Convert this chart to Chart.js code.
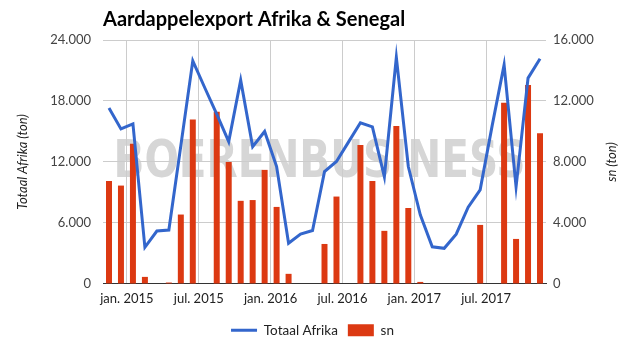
<!DOCTYPE html>
<html lang="nl">
<head>
<meta charset="utf-8">
<title>Aardappelexport Afrika &amp; Senegal</title>
<script src="https://cdn.jsdelivr.net/npm/chart.js@4.4.1/dist/chart.umd.min.js"></script>
<style>
    html, body { margin: 0; padding: 0; background: #ffffff; }
    #wrap { width: 625px; height: 355px; position: relative; }
</style>
</head>
<body>
<div id="wrap"><canvas id="myChart"></canvas></div>
<script>
// maanden nov. 2014 t/m nov. 2017
const maanden = [
    "nov. 2014", "dec. 2014",
    "jan. 2015", "feb. 2015", "mrt. 2015", "apr. 2015", "mei 2015", "jun. 2015",
    "jul. 2015", "aug. 2015", "sep. 2015", "okt. 2015", "nov. 2015", "dec. 2015",
    "jan. 2016", "feb. 2016", "mrt. 2016", "apr. 2016", "mei 2016", "jun. 2016",
    "jul. 2016", "aug. 2016", "sep. 2016", "okt. 2016", "nov. 2016", "dec. 2016",
    "jan. 2017", "feb. 2017", "mrt. 2017", "apr. 2017", "mei 2017", "jun. 2017",
    "jul. 2017", "aug. 2017", "sep. 2017", "okt. 2017", "nov. 2017"
];

// Totaal Afrika (ton), linker as
const totaalAfrika = [
    17300, 15250,
    15750, 3600, 5200, 5300, 13600, 21950,
    19300, 16700, 14000, 20050, 13500, 15000,
    11550, 4000, 4900, 5250, 11050, 12050,
    13950, 15850, 15450, 10550, 22300, 11550,
    6800, 3650, 3500, 4900, 7550, 9250,
    15550, 21550, 9550, 20250, 22150
];

// sn = Senegal (ton), rechter as
const senegal = [
    6750, 6450,
    9200, 460, 0, 90, 4550, 10780,
    0, 11300, 8000, 5450, 5500, 7480,
    5050, 660, 0, 0, 2620, 5730,
    0, 9120, 6750, 3480, 10360, 4980,
    130, 0, 0, 0, 30, 3870,
    0, 11890, 2950, 13050, 9880
];

const ticksLinks = [0, 6000, 12000, 18000, 24000];
const ticksRechts = [0, 4000, 8000, 12000, 16000];

const fontNaam = "Lato, 'Open Sans', sans-serif";

function nlGetal(v) {
    return String(v).replace(/\B(?=(\d{3})+(?!\d))/g, ".");
}

// grijs watermerk achter de grafiek
const watermerk = {
    id: "watermerk",
    beforeDraw(chart) {
        const ctx = chart.ctx;
        const area = chart.chartArea;
        const tekst = "BOERENBUSINESS";
        ctx.save();
        ctx.font = "bold 51px 'DejaVu Sans'";
        const breedte = ctx.measureText(tekst).width;
        const doel = 412;
        ctx.translate((area.left + area.right) / 2 - 5, 177);
        ctx.scale(doel / breedte, 1);
        ctx.fillStyle = "#d6d6d6";
        ctx.textAlign = "center";
        ctx.textBaseline = "alphabetic";
        ctx.fillText(tekst, 0, 0);
        ctx.restore();
    }
};

// titel van de rechter as, van onder naar boven leesbaar (zoals links)
const titelRechts = {
    id: "titelRechts",
    afterDraw(chart) {
        const ctx = chart.ctx;
        const s = chart.scales.y1;
        ctx.save();
        ctx.translate(s.right - 13, (s.top + s.bottom) / 2);
        ctx.rotate(-Math.PI / 2);
        ctx.font = "italic 13px " + fontNaam;
        ctx.fillStyle = "#222222";
        ctx.textAlign = "center";
        ctx.textBaseline = "middle";
        ctx.fillText("sn (ton)", 0, 0);
        ctx.restore();
    }
};

document.addEventListener("DOMContentLoaded", function () {
    Chart.defaults.font.family = fontNaam;
    Chart.defaults.font.size = 13;
    Chart.defaults.color = "#444444";

    new Chart("myChart", {
        type: "bar",
        data: {
            labels: maanden,
            datasets: [{
                type: "line",
                label: "Totaal Afrika",
                data: totaalAfrika,
                yAxisID: "y",
                borderColor: "#3366cc",
                backgroundColor: "#3366cc",
                borderWidth: 3,
                pointRadius: 0,
                pointStyle: "line",
                tension: 0,
                order: 0
            }, {
                type: "bar",
                label: "sn",
                data: senegal,
                yAxisID: "y1",
                backgroundColor: "#dc3912",
                borderWidth: 0,
                pointStyle: "rect",
                categoryPercentage: 1,
                barPercentage: 0.5,
                order: 1
            }]
        },
        options: {
            responsive: true,
            maintainAspectRatio: false,
            animation: false,
            layout: { padding: { left: 0, right: 0, top: 0, bottom: 8 } },
            plugins: {
                title: {
                    display: true,
                    text: "Aardappelexport Afrika & Senegal",
                    align: "start",
                    fullSize: false,
                    color: "#000000",
                    font: { size: 20, weight: "bold" },
                    padding: { top: 8, bottom: 8 }
                },
                legend: {
                    position: "bottom",
                    labels: {
                        usePointStyle: true,
                        pointStyleWidth: 26,
                        boxHeight: 12,
                        padding: 10,
                        color: "#222222",
                        font: { size: 13.5 }
                    }
                },
                tooltip: { enabled: false }
            },
            scales: {
                x: {
                    offset: true,
                    grid: {
                        offset: true,
                        drawTicks: false,
                        color: function (c) {
                            const lab = maanden[c.index] || "";
                            return (lab.startsWith("jan.") || lab.startsWith("jul.")) ? "#cccccc" : "rgba(0,0,0,0)";
                        }
                    },
                    border: { display: true, color: "#333333", width: 1 },
                    ticks: {
                        autoSkip: false,
                        maxRotation: 0,
                        padding: 7,
                        labelOffset: -6,
                        color: "#222222",
                        callback: function (value) {
                            const lab = maanden[value];
                            return (lab.startsWith("jan.") || lab.startsWith("jul.")) ? lab : "";
                        }
                    }
                },
                y: {
                    position: "left",
                    min: 0,
                    max: 24000,
                    afterBuildTicks: s => { s.ticks = ticksLinks.map(v => ({ value: v })); },
                    afterFit: s => { s.width = 103; },
                    grid: { color: "#cccccc", drawTicks: false },
                    border: { display: false },
                    ticks: { padding: 12, callback: v => nlGetal(v) },
                    title: {
                        display: true,
                        text: "Totaal Afrika (ton)",
                        color: "#222222",
                        font: { size: 13, style: "italic" },
                        padding: { top: 15, bottom: 0 }
                    }
                },
                y1: {
                    position: "right",
                    min: 0,
                    max: 16000,
                    afterBuildTicks: s => { s.ticks = ticksRechts.map(v => ({ value: v })); },
                    afterFit: s => { s.width = 79; },
                    grid: { drawOnChartArea: false, drawTicks: false },
                    border: { display: false },
                    ticks: { padding: 7, callback: v => nlGetal(v) }
                }
            }
        },
        plugins: [watermerk, titelRechts]
    });
});
</script>
</body>
</html>
